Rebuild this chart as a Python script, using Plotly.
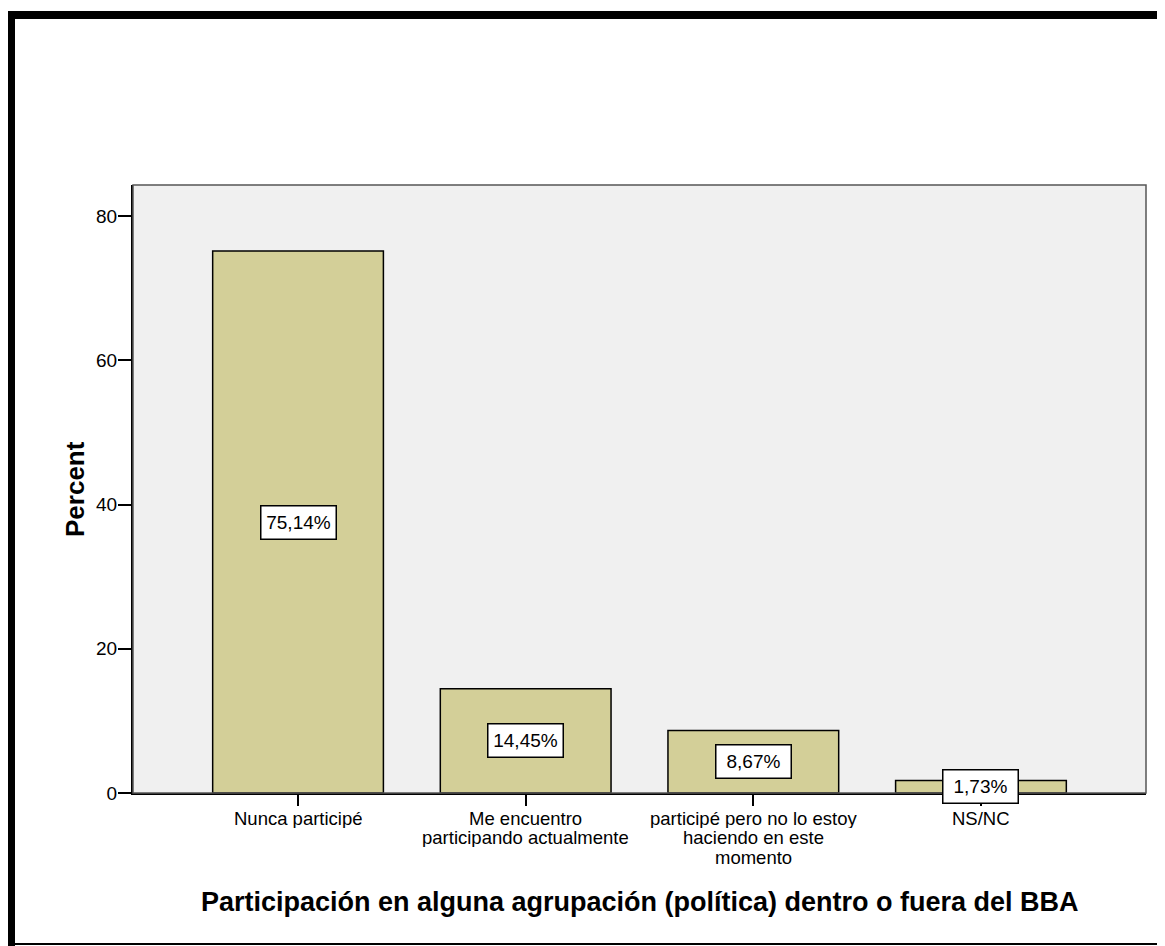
import plotly.graph_objects as go

categories = ["Nunca participé", "Me encuentro participando actualmente",
              "participé pero no lo estoy haciendo en este momento", "NS/NC"]
percent = [75.14, 14.45, 8.67, 1.73]
value_labels = ["75,14%", "14,45%", "8,67%", "1,73%"]
tick_label_lines = [["Nunca participé"],
                    ["Me encuentro", "participando actualmente"],
                    ["participé pero no lo estoy", "haciendo en este", "momento"],
                    ["NS/NC"]]
y_ticks = [0, 20, 40, 60, 80]
x_title = "Participación en alguna agrupación (política) dentro o fuera del BBA"
y_title = "Percent"

FONT = "Liberation Sans, Arial, Helvetica, sans-serif"
OFF = 8  # page body margin
W, H = 1165 - OFF, 946 - OFF
ML, MR, MT, MB = 133 - OFF, 19, 185 - OFF, 153
PW, PH = W - ML - MR, H - MT - MB


def px_x(px):
    return (px - OFF - ML) / PW


def px_y(py):
    return (H - MB - (py - OFF)) / PH


fig = go.Figure()
fig.add_trace(go.Bar(
    x=list(range(len(categories))), y=percent, width=0.75,
    marker=dict(color="#D3CF98", line=dict(color="black", width=1.5)),
    hovertext=categories, showlegend=False,
))

annotations = []
for i, (v, lab) in enumerate(zip(percent, value_labels)):
    annotations.append(dict(
        x=i, y=v / 2, xref="x", yref="y", text=lab, showarrow=False,
        font=dict(family=FONT, size=19, color="black"),
        bgcolor="white", bordercolor="black", borderwidth=1.5, borderpad=2,
        width=70, height=28, xanchor="center", yanchor="middle",
    ))
for i, lines in enumerate(tick_label_lines):
    for j, line in enumerate(lines):
        annotations.append(dict(
            x=i, y=0, xref="x", yref="paper", text=line, showarrow=False,
            font=dict(family=FONT, size=18.5, color="black"),
            height=19, xanchor="center", yanchor="middle",
            yshift=-25 - 19.5 * j,
        ))
annotations.append(dict(
    x=0.5, y=0, xref="paper", yref="paper", text="<b>" + x_title + "</b>",
    showarrow=False, font=dict(family=FONT, size=27, color="black"),
    xanchor="center", yanchor="middle", yshift=-109,
))
annotations.append(dict(
    x=0, y=0.5, xref="paper", yref="paper", text="<b>" + y_title + "</b>",
    showarrow=False, font=dict(family=FONT, size=26, color="black"),
    xanchor="center", yanchor="middle", xshift=-58, textangle=-90,
))

shapes = [
    dict(type="rect", xref="paper", yref="paper", x0=0, x1=1, y0=0, y1=1,
         line=dict(color="#555555", width=1.5), layer="above"),
    dict(type="rect", xref="paper", yref="paper", x0=px_x(8), x1=px_x(1170),
         y0=px_y(19), y1=px_y(11), fillcolor="black", line=dict(width=0)),
    dict(type="rect", xref="paper", yref="paper", x0=px_x(8), x1=px_x(15),
         y0=px_y(950), y1=px_y(11), fillcolor="black", line=dict(width=0)),
    dict(type="rect", xref="paper", yref="paper", x0=px_x(15), x1=px_x(1170),
         y0=px_y(945), y1=px_y(943), fillcolor="black", line=dict(width=0)),
]

fig.update_layout(
    width=W, height=H,
    margin=dict(l=ML, r=MR, t=MT, b=MB, autoexpand=False),
    paper_bgcolor="white", plot_bgcolor="#F0F0F0",
    font=dict(family=FONT, size=19, color="black"),
    annotations=annotations, shapes=shapes,
    xaxis=dict(range=[-0.725, 3.725], tickvals=list(range(len(categories))),
               showticklabels=False, ticks="outside", ticklen=11, tickwidth=2,
               tickcolor="black", showline=True, linecolor="black", linewidth=2,
               showgrid=False, zeroline=False, fixedrange=True),
    yaxis=dict(range=[0, 84.3], tickvals=y_ticks, ticks="outside", ticklen=13,
               tickwidth=2, tickcolor="black", showline=True, linecolor="black",
               linewidth=2, showgrid=False, zeroline=False,
               tickfont=dict(family=FONT, size=19, color="black"),
               ticklabelstandoff=-3, fixedrange=True),
)

fig.write_html("out.html")
